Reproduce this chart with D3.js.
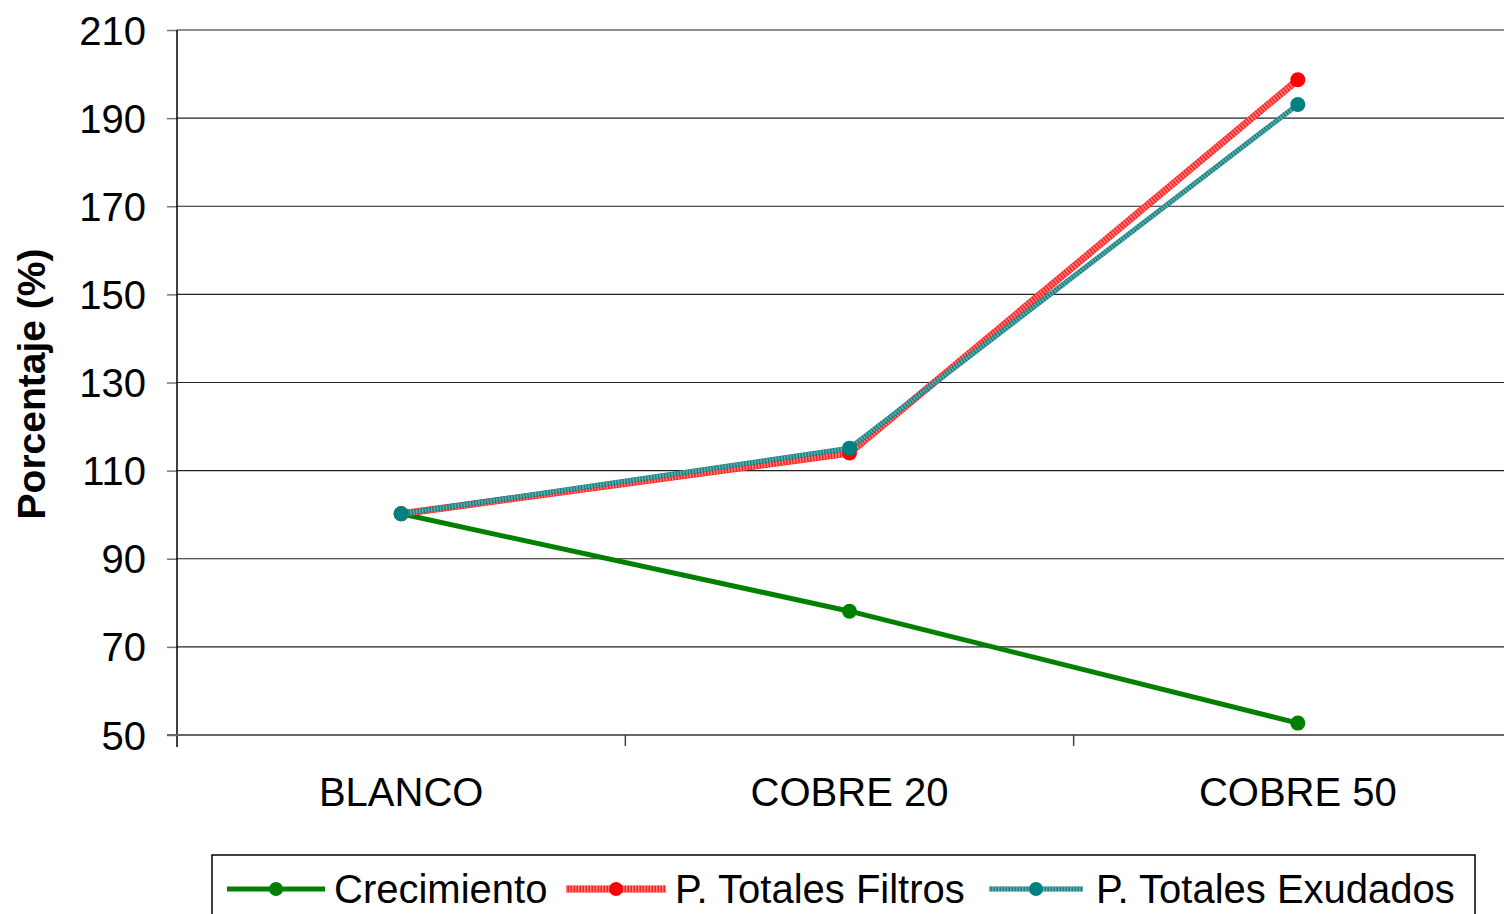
<!DOCTYPE html>
<html>
<head>
<meta charset="utf-8">
<script src="https://cdn.jsdelivr.net/npm/d3@7"></script>
<style>
  html, body { margin: 0; padding: 0; background: #fff; }
  svg { display: block; font-family: "Liberation Sans", Arial, sans-serif; }
</style>
</head>
<body>
<svg id="chart" width="1504" height="914"></svg>
<script>
// Categories and series values (percent)
const categories = ["BLANCO", "COBRE 20", "COBRE 50"];
const crecimiento = [100.2, 78.1, 52.7];
const filtros = [100.2, 114.0, 198.7];
const exudados = [100.2, 115.1, 193.1];
const yTicks = [50, 70, 90, 110, 130, 150, 170, 190, 210];
const seriesNames = ["Crecimiento", "P. Totales Filtros", "P. Totales Exudados"];

const svg = d3.select("#chart");
const plotLeft = 177, plotRight = 1522, plotTop = 30, plotBottom = 735;

const x = d3.scaleBand().domain(categories).range([plotLeft, plotRight]).padding(0);
const y = d3.scaleLinear().domain([50, 210]).range([plotBottom, plotTop]);
const cx = d => x(d) + x.bandwidth() / 2;

// Horizontal gridlines
svg.append("g").selectAll("line").data(yTicks.slice(1)).join("line")
  .attr("x1", plotLeft).attr("x2", plotRight)
  .attr("y1", d => y(d)).attr("y2", d => y(d))
  .attr("stroke", "#222").attr("stroke-width", 1.2);

// Y axis
const yAxis = d3.axisLeft(y).tickValues(yTicks).tickSize(10).tickPadding(21);
const gy = svg.append("g").attr("transform", `translate(${plotLeft},0)`).call(yAxis);
gy.select(".domain").remove();
gy.selectAll(".tick line").attr("stroke", "#777").attr("stroke-width", 1.5);
gy.selectAll(".tick text").attr("font-size", 40).attr("fill", "#000")
  .attr("font-family", "Liberation Sans, Arial, sans-serif").attr("dy", "0.35em");
svg.append("line").attr("x1", plotLeft).attr("x2", plotLeft).attr("y1", plotTop).attr("y2", plotBottom + 12)
  .attr("stroke", "#000").attr("stroke-width", 1.5);

// X axis
svg.append("line").attr("x1", plotLeft - 10).attr("x2", plotRight).attr("y1", plotBottom).attr("y2", plotBottom)
  .attr("stroke", "#666").attr("stroke-width", 2);
svg.append("g").selectAll("line").data(categories.slice(1)).join("line")
  .attr("x1", d => x(d)).attr("x2", d => x(d))
  .attr("y1", plotBottom).attr("y2", plotBottom + 11)
  .attr("stroke", "#444").attr("stroke-width", 1.5);
svg.append("g").selectAll("text").data(categories).join("text")
  .attr("x", d => cx(d)).attr("y", 806)
  .attr("text-anchor", "middle").attr("font-size", 40).attr("fill", "#000")
  .text(d => d);

// Y title
svg.append("text")
  .attr("transform", "translate(45,384) rotate(-90)")
  .attr("text-anchor", "middle").attr("font-size", 39).attr("font-weight", "bold")
  .text("Porcentaje (%)");

const line = d3.line().x((d, i) => cx(categories[i])).y(d => y(d));

// Series styles: base colour, stripe colour, marker colour, width
const styles = [
  { data: crecimiento, color: "#008000", stripe: null, marker: "#008000", w: 5 },
  { data: filtros, color: "#ff2020", stripe: "#ff8080", marker: "#ff0000", w: 7 },
  { data: exudados, color: "#188080", stripe: "#60b0b0", marker: "#008080", w: 5 }
];

styles.forEach(s => {
  svg.append("path").datum(s.data).attr("d", line)
    .attr("fill", "none").attr("stroke", s.color).attr("stroke-width", s.w)
    .attr("stroke-linejoin", "round");
  if (s.stripe) {
    svg.append("path").datum(s.data).attr("d", line)
      .attr("fill", "none").attr("stroke", s.stripe).attr("stroke-width", s.w - 1)
      .attr("stroke-dasharray", "1.5,1.5").attr("stroke-linejoin", "round");
  }
  svg.append("g").selectAll("circle").data(s.data).join("circle")
    .attr("cx", (d, i) => cx(categories[i])).attr("cy", d => y(d))
    .attr("r", 7.5).attr("fill", s.marker);
});

// Legend
const lg = svg.append("g");
lg.append("rect").attr("x", 212).attr("y", 855).attr("width", 1263).attr("height", 70)
  .attr("fill", "#fff").attr("stroke", "#000").attr("stroke-width", 1.5);
const legendItems = [
  { name: seriesNames[0], x1: 227, x2: 325, tx: 334, s: styles[0] },
  { name: seriesNames[1], x1: 566, x2: 666, tx: 675, s: styles[1] },
  { name: seriesNames[2], x1: 989, x2: 1083, tx: 1096, s: styles[2] }
];
const ly = 889;
legendItems.forEach(it => {
  lg.append("line").attr("x1", it.x1).attr("x2", it.x2).attr("y1", ly).attr("y2", ly)
    .attr("stroke", it.s.color).attr("stroke-width", it.s.w);
  if (it.s.stripe) {
    lg.append("line").attr("x1", it.x1).attr("x2", it.x2).attr("y1", ly).attr("y2", ly)
      .attr("stroke", it.s.stripe).attr("stroke-width", it.s.w - 1).attr("stroke-dasharray", "1.5,1.5");
  }
  lg.append("circle").attr("cx", (it.x1 + it.x2) / 2).attr("cy", ly).attr("r", 7).attr("fill", it.s.marker);
  lg.append("text").attr("x", it.tx).attr("y", ly + 14).attr("font-size", 40).attr("fill", "#000").text(it.name);
});
</script>
</body>
</html>
